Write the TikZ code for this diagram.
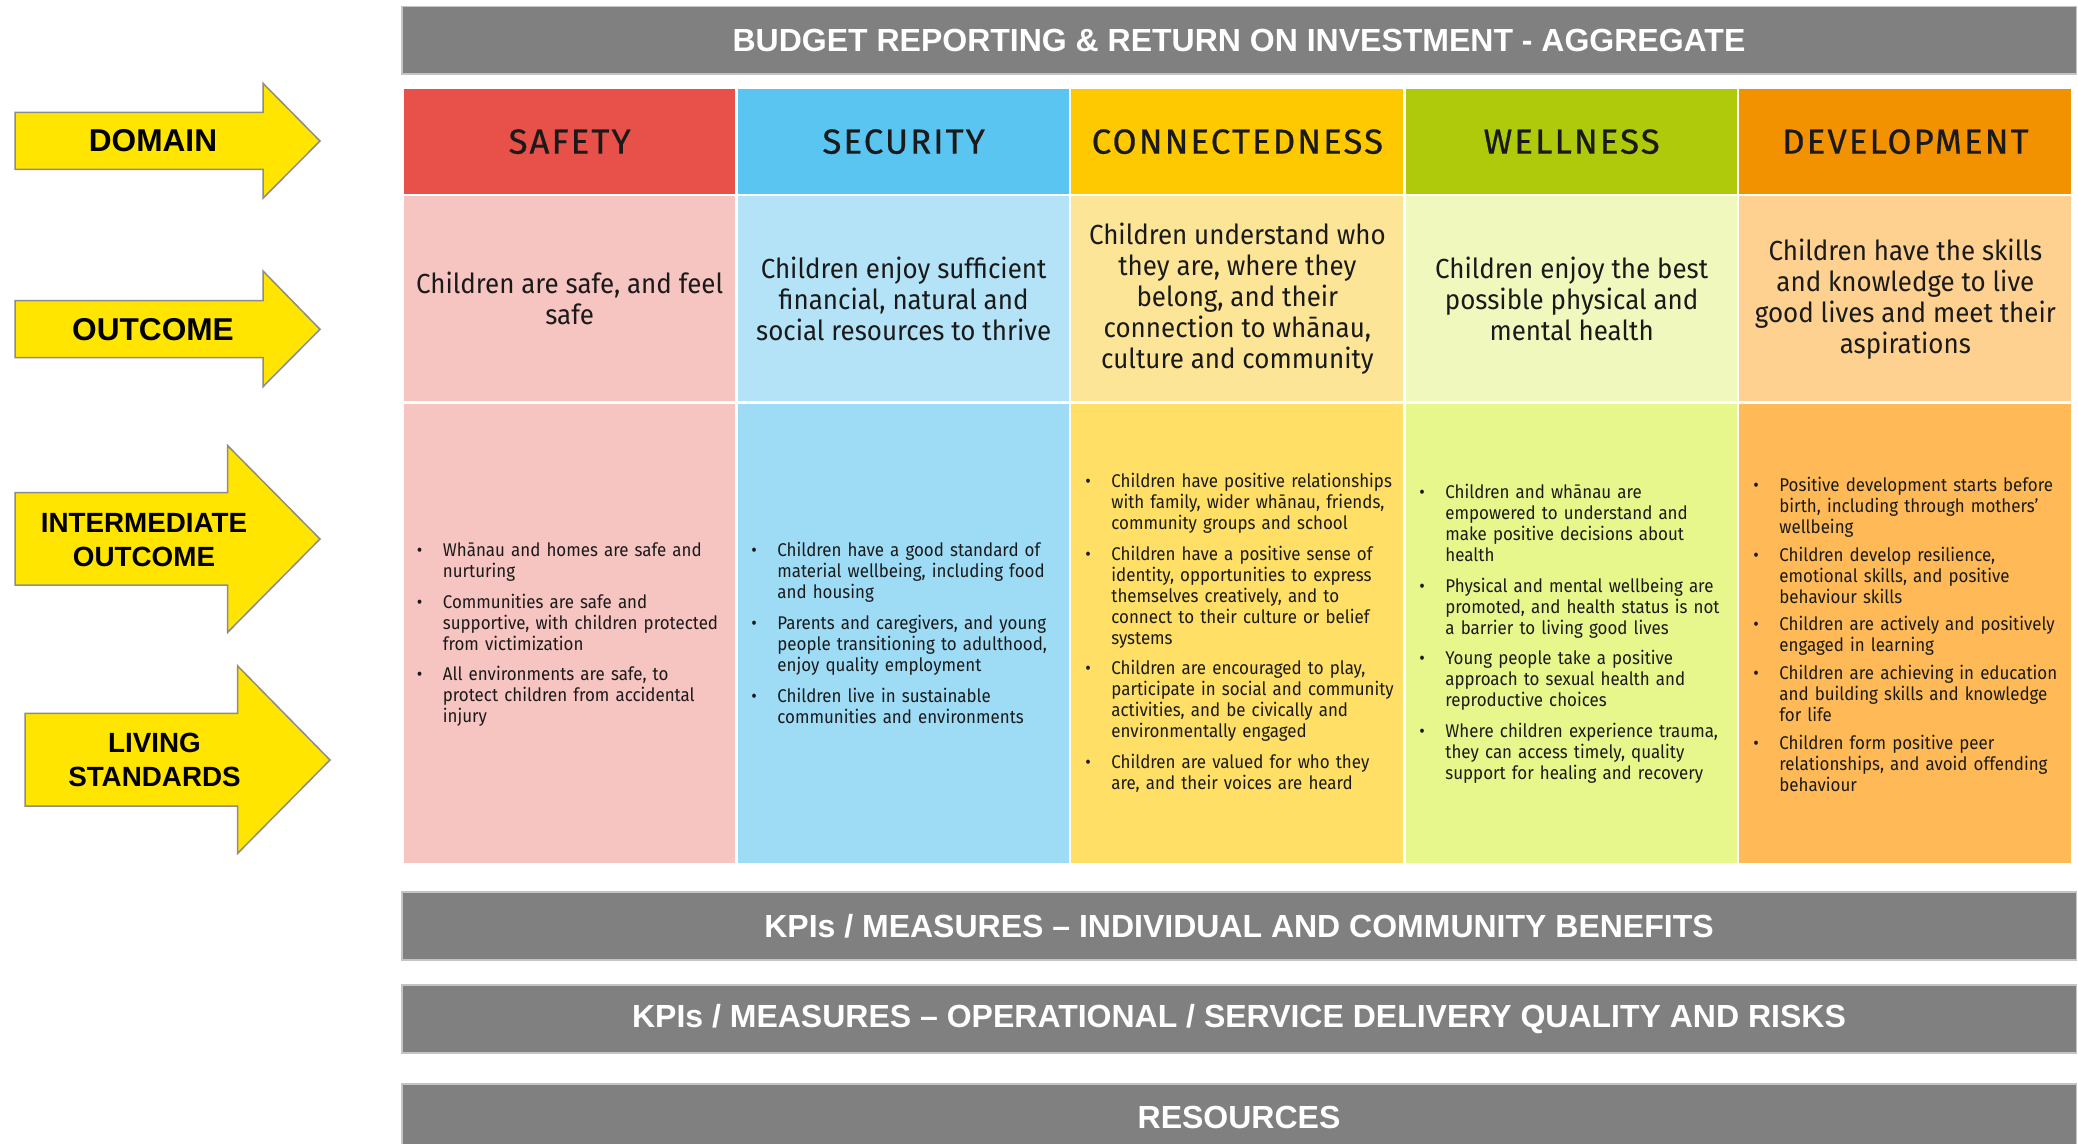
\documentclass[tikz,border=0pt]{standalone}
\usepackage{fontspec}
\setmainfont{Fira Sans}
\newfontfamily\arialfont{Liberation Sans}
\newfontfamily\hdrfont[LetterSpace=6,FakeBold=0.6]{Fira Sans}
\newfontfamily\outfont[FakeStretch=0.94]{Fira Sans}
\newfontfamily\bulfont[FakeStretch=0.92]{Fira Sans}
\newdimen\px \px=0.5pt
\definecolor{bgray}{HTML}{808080}
\definecolor{bline}{HTML}{C4C4C4}
\definecolor{ayellow}{HTML}{FFE500}
\definecolor{aline}{HTML}{8C8C8C}
\definecolor{txt}{HTML}{1A1A1A}
\definecolor{hA}{HTML}{E8514A}\definecolor{oA}{HTML}{F6C4C1}\definecolor{iA}{HTML}{F6C4C1}
\definecolor{hB}{HTML}{5BC5F2}\definecolor{oB}{HTML}{B4E3F7}\definecolor{iB}{HTML}{9EDCF6}
\definecolor{hC}{HTML}{FFC900}\definecolor{oC}{HTML}{FDE598}\definecolor{iC}{HTML}{FFDF66}
\definecolor{hD}{HTML}{AFCA0B}\definecolor{oD}{HTML}{F1F8BE}\definecolor{iD}{HTML}{E7F78C}
\definecolor{hE}{HTML}{F39200}\definecolor{oE}{HTML}{FED190}\definecolor{iE}{HTML}{FFBA57}
\newcommand{\nl}{\newline}
\newcommand{\bitem}[1]{\noindent\hangindent=26\px\hangafter=1\makebox[26\px][l]{\textbullet}\rule{0pt}{14\px}#1\par}
\newcommand{\isp}{\vspace{9.8\px}}
\newcommand{\dsp}{\vspace{6.6\px}}
\begin{document}
\begin{tikzpicture}[x=0.5pt,y=-0.5pt,
  banner/.style={draw=bline, line width=1.5\px, fill=bgray, text=white, inner sep=0, anchor=north west, minimum width=1674.5\px, font=\arialfont\bfseries\fontsize{16pt}{18pt}\selectfont},
  cell/.style={inner sep=0, anchor=north west, minimum width=331.5\px},
  hdr/.style={cell, minimum height=104.5\px, font=\hdrfont\fontsize{17.4pt}{20pt}\selectfont, text=txt},
  outc/.style={cell, minimum height=205\px, align=center, font=\outfont\fontsize{13.8pt}{15.5pt}\selectfont, text=txt},
  inter/.style={cell, minimum height=459\px},
  blist/.style={anchor=north west, inner sep=0, text width=330\px, align=left, font=\bulfont\fontsize{9.2pt}{10.5pt}\selectfont, text=txt},
  yarrow/.style={fill=ayellow, draw=aline, line width=1.5\px, line join=miter},
  alabel/.style={align=center, inner sep=0, font=\arialfont\bfseries\fontsize{15.8pt}{17.25pt}\selectfont},
  alabeltwo/.style={alabel, font=\arialfont\bfseries\fontsize{13.9pt}{17.25pt}\selectfont}
]
\useasboundingbox[fill=white] (0,0) rectangle (2078,1144);

% banners
\node[banner, minimum height=67.3\px] (top) at (401,6) {BUDGET REPORTING \& RETURN ON INVESTMENT - AGGREGATE};
\node[banner, minimum height=68\px] (kpi1) at (401,891) {KPIs / MEASURES – INDIVIDUAL AND COMMUNITY BENEFITS};
\node[banner, minimum height=68\px] (kpi2) at (401,984) {KPIs / MEASURES – OPERATIONAL / SERVICE DELIVERY QUALITY AND RISKS};
\node[banner, minimum height=68\px] (res) at (401,1083) {RESOURCES};

% header row
\node[hdr, fill=hA] (hA) at (403.5,89) {SAFETY};
\node[hdr, fill=hB] (hB) at (737.5,89) {SECURITY};
\node[hdr, fill=hC, minimum width=332\px] (hC) at (1071,89) {CONNECTEDNESS};
\node[hdr, fill=hD] (hD) at (1405.5,89) {WELLNESS};
\node[hdr, fill=hE, minimum width=332\px] (hE) at (1739,89) {DEVELOPMENT};

% outcome row
\node[outc, fill=oA] (oA) at (403.5,196) {Children are safe, and feel\\safe};
\node[outc, fill=oB] (oB) at (737.5,196) {Children enjoy sufficient\\financial, natural and\\social resources to thrive};
\node[outc, fill=oC, minimum width=332\px] (oC) at (1071,196) {Children understand who\\they are, where they\\belong, and their\\connection to whānau,\\culture and community};
\node[outc, fill=oD] (oD) at (1405.5,196) {Children enjoy the best\\possible physical and\\mental health};
\node[outc, fill=oE, minimum width=332\px] (oE) at (1739,196) {Children have the skills\\and knowledge to live\\good lives and meet their\\aspirations};

% intermediate row
\node[inter, fill=iA] (iA) at (403.5,404) {};
\node[inter, fill=iB] (iB) at (737.5,404) {};
\node[inter, fill=iC, minimum width=332\px] (iC) at (1071,404) {};
\node[inter, fill=iD] (iD) at (1405.5,404) {};
\node[inter, fill=iE, minimum width=332\px] (iE) at (1739,404) {};

\node[blist] (lA) at (416.5,541.9) {%
\bitem{Whānau and homes are safe and\nl nurturing}\isp
\bitem{Communities are safe and\nl supportive, with children protected\nl from victimization}\isp
\bitem{All environments are safe, to\nl protect children from accidental\nl injury}};

\node[blist] (lB) at (751,541.9) {%
\bitem{Children have a good standard of\nl material wellbeing, including food\nl and housing}\isp
\bitem{Parents and caregivers, and young\nl people transitioning to adulthood,\nl enjoy quality employment}\isp
\bitem{Children live in sustainable\nl communities and environments}};

\node[blist] (lC) at (1085,472.5) {%
\bitem{Children have positive relationships\nl with family, wider whānau, friends,\nl community groups and school}\isp
\bitem{Children have a positive sense of\nl identity, opportunities to express\nl themselves creatively, and to\nl connect to their culture or belief\nl systems}\isp
\bitem{Children are encouraged to play,\nl participate in social and community\nl activities, and be civically and\nl environmentally engaged}\isp
\bitem{Children are valued for who they\nl are, and their voices are heard}};

\node[blist] (lD) at (1419,483.5) {%
\bitem{Children and whānau are\nl empowered to understand and\nl make positive decisions about\nl health}\isp
\bitem{Physical and mental wellbeing are\nl promoted, and health status is not\nl a barrier to living good lives}\isp
\bitem{Young people take a positive\nl approach to sexual health and\nl reproductive choices}\isp
\bitem{Where children experience trauma,\nl they can access timely, quality\nl support for healing and recovery}};

\node[blist] (lE) at (1753,476.9) {%
\bitem{Positive development starts before\nl birth, including through mothers’\nl wellbeing}\dsp
\bitem{Children develop resilience,\nl emotional skills, and positive\nl behaviour skills}\dsp
\bitem{Children are actively and positively\nl engaged in learning}\dsp
\bitem{Children are achieving in education\nl and building skills and knowledge\nl for life}\dsp
\bitem{Children form positive peer\nl relationships, and avoid offending\nl behaviour}};

% left arrows
\draw[yarrow] (15,112.3) -- (263,112.3) -- (263,83.3) -- (320,141) -- (263,198.3) -- (263,169.3) -- (15,169.3) -- cycle;
\node[alabel] (adom) at (153,141) {DOMAIN};
\draw[yarrow] (15,300.7) -- (263,300.7) -- (263,271) -- (320,329.3) -- (263,386.7) -- (263,357.7) -- (15,357.7) -- cycle;
\node[alabel] (aout) at (153,329.3) {OUTCOME};
\draw[yarrow] (15,492.7) -- (227.7,492.7) -- (227.7,445.7) -- (320,539) -- (227.7,632.3) -- (227.7,585) -- (15,585) -- cycle;
\node[alabeltwo] (aint) at (144,540) {INTERMEDIATE\\OUTCOME};
\draw[yarrow] (25,713.3) -- (237.7,713.3) -- (237.7,666) -- (330,760) -- (237.7,853.3) -- (237.7,806) -- (25,806) -- cycle;
\node[alabeltwo] (aliv) at (154.5,760) {LIVING\\STANDARDS};
\end{tikzpicture}
\end{document}
